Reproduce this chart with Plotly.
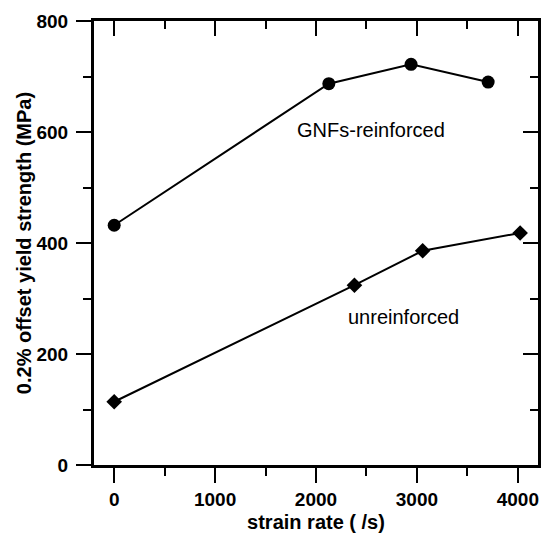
import plotly.graph_objects as go

# Data
gnf_rate = [0, 2127, 2942, 3706]
gnf_strength = [432, 687, 722, 690]
unr_rate = [0, 2381, 3057, 4023]
unr_strength = [114, 324, 386, 418]

x_title = "strain rate ( /s)"
y_title = "0.2% offset yield strength (MPa)"
label_gnf = "GNFs-reinforced"
label_unr = "unreinforced"

FONT = "Liberation Sans, Arial, Helvetica, sans-serif"
x_range = [-200, 4200]
y_range = [0, 800]

fig = go.Figure()
fig.add_trace(go.Scatter(
    x=gnf_rate, y=gnf_strength, mode="lines+markers",
    line=dict(color="black", width=2),
    marker=dict(symbol="circle", size=13, color="black"),
    showlegend=False,
))
fig.add_trace(go.Scatter(
    x=unr_rate, y=unr_strength, mode="lines+markers",
    line=dict(color="black", width=2),
    marker=dict(symbol="diamond", size=12, color="black"),
    showlegend=False,
))
# empty trace so the mirrored top/right axes get drawn
fig.add_trace(go.Scatter(x=[None], y=[None], xaxis="x2", yaxis="y2",
                         mode="markers", showlegend=False, hoverinfo="skip"))

fig.add_annotation(x=2546, y=603, text=label_gnf, showarrow=False,
                   font=dict(family=FONT, size=20, color="black"))
fig.add_annotation(x=2870, y=267, text=label_unr, showarrow=False,
                   font=dict(family=FONT, size=20, color="black"))

axis_common = dict(showgrid=False, zeroline=False, showline=True,
                   linecolor="black", linewidth=3, tickcolor="black",
                   tickwidth=2, automargin=False)

fig.update_layout(
    width=542, height=533,
    margin=dict(l=94, r=4, t=21, b=68),
    plot_bgcolor="white", paper_bgcolor="white",
    font=dict(family=FONT, color="black"),
    xaxis=dict(
        range=x_range, tickmode="linear", tick0=0, dtick=1000,
        ticks="outside", ticklen=15,
        minor=dict(ticks="outside", ticklen=8, dtick=500, tick0=0,
                   tickcolor="black", tickwidth=2, showgrid=False),
        tickfont=dict(family=FONT, size=19, weight="bold"),
        ticklabelstandoff=0,
        title=dict(text=x_title, font=dict(family=FONT, size=20, weight="bold"),
                   standoff=7),
        **axis_common,
    ),
    xaxis2=dict(
        range=x_range, overlaying="x", side="top", tickmode="linear",
        tick0=0, dtick=1000, ticks="inside", ticklen=15,
        minor=dict(ticks="inside", ticklen=8, dtick=500, tick0=0,
                   tickcolor="black", tickwidth=2, showgrid=False),
        showticklabels=False,
        **axis_common,
    ),
    yaxis=dict(
        range=y_range, tickmode="linear", tick0=0, dtick=200,
        ticks="outside", ticklen=15,
        minor=dict(ticks="outside", ticklen=8, dtick=100, tick0=0,
                   tickcolor="black", tickwidth=2, showgrid=False),
        tickfont=dict(family=FONT, size=19, weight="bold"),
        ticklabelstandoff=4,
        title=dict(text=y_title, font=dict(family=FONT, size=20, weight="bold"),
                   standoff=0),
        **axis_common,
    ),
    yaxis2=dict(
        range=y_range, overlaying="y", side="right", tickmode="linear",
        tick0=0, dtick=200, ticks="inside", ticklen=15,
        minor=dict(ticks="inside", ticklen=8, dtick=100, tick0=0,
                   tickcolor="black", tickwidth=2, showgrid=False),
        showticklabels=False,
        **axis_common,
    ),
)

fig.write_html(
    "out.html",
    config={"displayModeBar": False},
    post_script="document.body.style.margin='0';document.body.style.padding='0';"
                "document.body.style.overflow='hidden';",
)
